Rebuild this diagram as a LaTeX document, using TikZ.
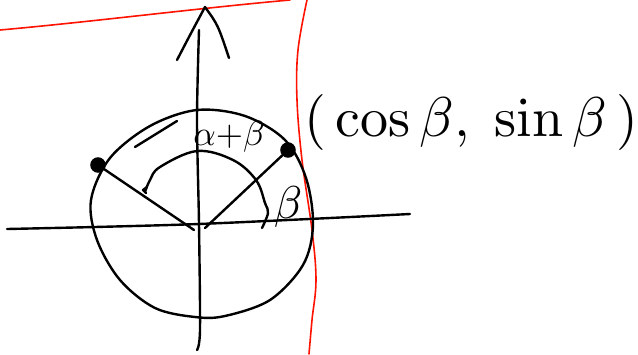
\documentclass[tikz,border=0pt]{standalone}
\usetikzlibrary{calc}
\begin{document}
\begin{tikzpicture}[x=1pt,y=-1pt,
  pen/.style={line width=2.4pt,line cap=round,line join=round,black},
  redpen/.style={line width=1.6pt,line cap=round,red!85!orange},
  dot/.style={circle,fill=black,draw=black,line width=1.5pt,inner sep=0pt,minimum size=14pt},
  lab/.style={inner sep=0pt}]
\useasboundingbox (0,0) rectangle (638,354);
% red lines
\draw[redpen] (0,30) .. controls (90,22) and (200,8) .. (290,0);
\draw[redpen] plot[smooth,tension=0.6] coordinates {(307,0) (298,50) (297,100) (302,160) (312,230) (316,280) (312,320) (309,354)};
% axes
\coordinate (O) at (199,224);
\coordinate (xl) at (7,229);
\coordinate (xr) at (410,214);
\coordinate (yt) at (199,30);
\coordinate (yb) at (197,350);
\draw[pen] plot[smooth,tension=0.5] coordinates {(xl) (95,227) (199,224) (330,218) (xr)};
\draw[pen] plot[smooth,tension=0.5] coordinates {(yt) (197,120) (199,224) (200,330) (yb)};
\coordinate (al) at (177,60);
\coordinate (at) at (205,7);
\coordinate (ar) at (229,58);
\draw[pen] (al) .. controls (190,35) .. (at) .. controls (218,25) .. (ar);
% circle
\draw[pen] plot[smooth cycle,tension=0.55] coordinates {(91,200) (110,158) (150,126) (197,110) (245,116) (285,140) (306,178) (313,225) (303,265) (270,300) (225,316) (195,317) (155,308) (120,280) (97,240)};
% points
\node[dot] (P) at (98,165) {};
\node[dot] (Q) at (288,150) {};
\coordinate (Ol) at (194,230);
\coordinate (Or) at (205,228);
\draw[pen] (P) -- (Ol);
\draw[pen] (Q) -- (Or);
% inner arc alpha+beta
\draw[pen] plot[smooth,tension=0.6] coordinates {(145,192) (150,180) (160,167) (197,151) (233,160) (256,180) (265,203) (268,213) (262,228)};
\draw[pen] (147,187) -- (143,190) -- (146,193);
% tick mark
\draw[pen] (135,147) -- (177,121);
% labels
\node[lab,scale=3.5] (ab) at (229,137) {$\alpha{+}\beta$};
\node[lab,scale=4.6] (b) at (288,207) {$\beta$};
\node[lab,anchor=west,scale=5.6] (pt) at (303,122) {$(\,\cos\beta,\;\sin\beta\,)$};
\end{tikzpicture}
\end{document}
